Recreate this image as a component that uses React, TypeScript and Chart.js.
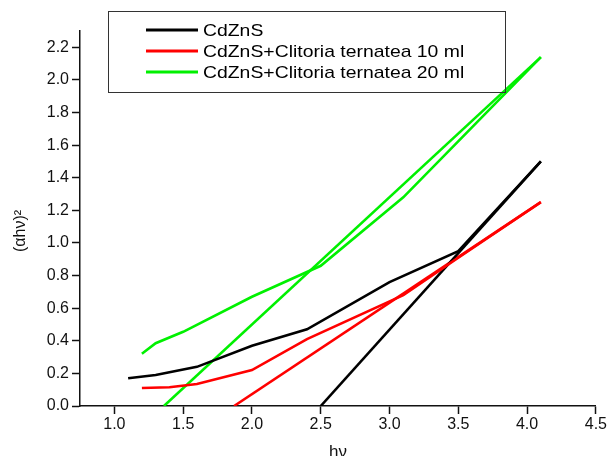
import React, { useEffect, useRef } from "react";
import { Chart, registerables } from "chart.js";

Chart.register(...registerables);

// Measured curves (hν in eV, (αhν)² in arbitrary units)
const cdznsX = [1.1, 1.3, 1.6, 2.0, 2.4, 3.0, 3.5, 4.1];
const cdznsY = [0.17, 0.19, 0.24, 0.37, 0.47, 0.76, 0.95, 1.5];

const ct10X = [1.2, 1.4, 1.6, 2.0, 2.4, 3.1, 3.5, 4.1];
const ct10Y = [0.11, 0.115, 0.135, 0.22, 0.41, 0.68, 0.91, 1.25];

const ct20X = [1.2, 1.3, 1.5, 2.0, 2.5, 3.1, 4.1];
const ct20Y = [0.32, 0.385, 0.455, 0.67, 0.86, 1.28, 2.14];

// Linear extrapolations of the absorption edge (x-intercept = band gap)
const cdznsFitX = [2.5, 4.1];
const cdznsFitY = [0, 1.5];
const ct10FitX = [1.87, 4.1];
const ct10FitY = [0, 1.25];
const ct20FitX = [1.36, 4.1];
const ct20FitY = [0, 2.14];

const seriesLabels = [
  "CdZnS",
  "CdZnS+Clitoria ternatea 10 ml",
  "CdZnS+Clitoria ternatea 20 ml",
];
const seriesColors = ["#000000", "#ff0000", "#00f000"];

const xTicks = [1.0, 1.5, 2.0, 2.5, 3.0, 3.5, 4.0, 4.5];
const yTicks = [0.0, 0.2, 0.4, 0.6, 0.8, 1.0, 1.2, 1.4, 1.6, 1.8, 2.0, 2.2];

const yTitle = "(αhν)²";
const xTitle = "hν";

const FONT = "'Liberation Sans', Arial, sans-serif";

const toPoints = (xs: number[], ys: number[]) =>
  xs.map((x, i) => ({ x, y: ys[i] }));

// Boxed legend inside the plot (measured curves only) and the y-axis title
const annotations = {
  id: "annotations",
  afterDraw(chart: any) {
    const ctx = chart.ctx as CanvasRenderingContext2D;
    ctx.save();
    ctx.strokeStyle = "#333333";
    ctx.lineWidth = 1;
    ctx.strokeRect(108.5, 11.5, 397, 81);
    ctx.textBaseline = "middle";
    ctx.textAlign = "left";
    seriesLabels.forEach((label, i) => {
      const y = 30 + i * 21;
      ctx.strokeStyle = seriesColors[i];
      ctx.lineWidth = 3;
      ctx.beginPath();
      ctx.moveTo(146, y);
      ctx.lineTo(198, y);
      ctx.stroke();
      ctx.save();
      ctx.translate(203, y + 1);
      ctx.scale(1.14, 1);
      ctx.font = `17px ${FONT}`;
      ctx.fillStyle = "#000000";
      ctx.fillText(label, 0, 0);
      ctx.restore();
    });

    ctx.save();
    ctx.translate(21, 231);
    ctx.rotate(-Math.PI / 2);
    ctx.textAlign = "center";
    ctx.font = `16px ${FONT}`;
    ctx.fillStyle = "#111111";
    ctx.fillText(yTitle, 0, 0);
    ctx.restore();
    ctx.restore();
  },
};

export default function App() {
  const canvasRef = useRef<HTMLCanvasElement | null>(null);

  useEffect(() => {
    if (!canvasRef.current) return;
    const line = (xs: number[], ys: number[], i: number, label: string) => ({
      label,
      data: toPoints(xs, ys),
      borderColor: seriesColors[i],
      borderWidth: 2.6,
      pointRadius: 0,
      tension: 0,
      fill: false,
    });

    const grid = {
      drawOnChartArea: false,
      drawTicks: true,
      tickLength: 8,
      tickWidth: 1.5,
      tickColor: "#111111",
    };

    const chart = new Chart(canvasRef.current, {
      type: "line",
      data: {
        datasets: [
          line(cdznsX, cdznsY, 0, seriesLabels[0]),
          line(ct10X, ct10Y, 1, seriesLabels[1]),
          line(ct20X, ct20Y, 2, seriesLabels[2]),
          line(cdznsFitX, cdznsFitY, 0, seriesLabels[0] + " fit"),
          line(ct10FitX, ct10FitY, 1, seriesLabels[1] + " fit"),
          line(ct20FitX, ct20FitY, 2, seriesLabels[2] + " fit"),
        ] as any,
      },
      options: {
        animation: false,
        responsive: false,
        maintainAspectRatio: false,
        layout: { padding: { top: 31, right: 11, left: 0, bottom: 0 } },
        plugins: {
          legend: { display: false },
          tooltip: { enabled: false },
        },
        scales: {
          x: {
            type: "linear",
            min: 0.75,
            max: 4.5,
            afterFit: (s: any) => {
              s.height = 50;
            },
            afterBuildTicks: (s: any) => {
              s.ticks = xTicks.map((v) => ({ value: v }));
            },
            ticks: {
              color: "#111111",
              font: { family: FONT, size: 16 },
              padding: 1,
              maxRotation: 0,
              callback: (v: any) => Number(v).toFixed(1),
            },
            grid,
            border: { color: "#111111", width: 1.5 },
            title: {
              display: true,
              text: xTitle,
              color: "#111111",
              font: { family: FONT, size: 17 },
              padding: { top: 0, bottom: -7 },
            },
          },
          y: {
            type: "linear",
            min: 0,
            max: 2.3,
            afterFit: (s: any) => {
              s.width = 80;
            },
            afterBuildTicks: (s: any) => {
              s.ticks = yTicks.map((v) => ({ value: v }));
            },
            ticks: {
              color: "#111111",
              font: { family: FONT, size: 16 },
              padding: 3,
              callback: (v: any) => Number(v).toFixed(1),
            },
            grid,
            border: { color: "#111111", width: 1.5 },
          },
        },
      },
      plugins: [annotations],
    });
    return () => chart.destroy();
  }, []);

  return (
    <div style={{ position: "absolute", left: 0, top: 0, width: 608, height: 456, background: "#ffffff" }}>
      <canvas ref={canvasRef} width={608} height={456} style={{ display: "block" }} />
    </div>
  );
}
